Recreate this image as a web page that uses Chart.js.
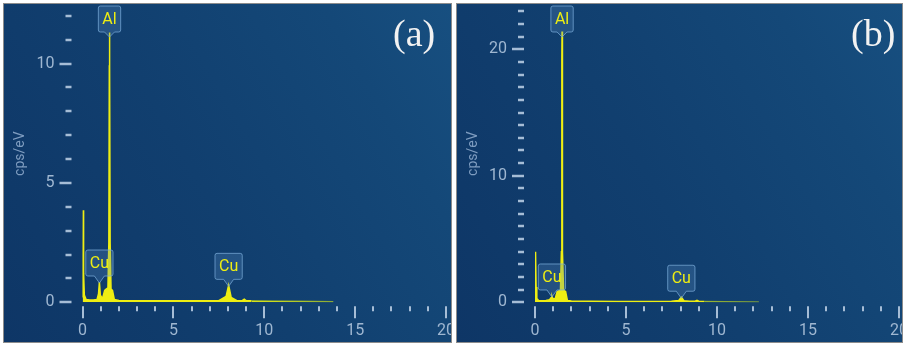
<!DOCTYPE html>
<html>
<head>
<meta charset="utf-8">
<script src="https://cdn.jsdelivr.net/npm/chart.js@4.4.1/dist/chart.umd.min.js"></script>
<style>
  body { margin: 0; background: #fff; width: 904px; height: 345px; overflow: hidden; position: relative; }
  .panel {
    position: absolute; top: 3px; height: 338px; border: 1px solid #8c8c8c; overflow: hidden;
    background: linear-gradient(60deg, #0e3666 0%, #113f6f 45%, #144878 80%, #174f80 100%);
  }
  #panelA { left: 3px; width: 447px; }
  #panelB { left: 456px; width: 445px; }
  .panel canvas { position: absolute; left: 0; top: 0; }
  .tag { position: absolute; top: 7px; font-family: "Liberation Serif", serif; font-size: 38px; color: #f2f2f2; }
</style>
</head>
<body>
<div class="panel" id="panelA">
  <canvas id="spectrumA" width="470" height="338"></canvas>
  <div class="tag" style="left:389px">(a)</div>
</div>
<div class="panel" id="panelB">
  <canvas id="spectrumB" width="470" height="338"></canvas>
  <div class="tag" style="left:394px">(b)</div>
</div>
<script>
// EDS spectra, energy in keV, intensity in cps/eV
const energyA = [0, 0.03, 0.06, 0.1, 0.2, 0.4, 0.6, 0.8, 0.88, 0.93, 0.98, 1.1, 1.22, 1.3, 1.4, 1.45, 1.475, 1.486, 1.497, 1.52,
  1.57, 1.65, 1.75, 2.0, 3.0, 4.5, 6.0, 7.5, 7.9, 8.04, 8.18, 8.5, 8.8, 8.9, 9.0, 9.3, 10.5, 12.0, 13.8];
const cpsA = [0.2, 3.85, 1.2, 0.3, 0.12, 0.1, 0.1, 0.12, 0.35, 0.85, 0.3, 0.15, 0.5, 0.55, 0.6, 2.5, 9.9, 11.3, 9.9, 2.5,
  0.55, 0.5, 0.12, 0.08, 0.07, 0.06, 0.06, 0.07, 0.25, 0.71, 0.2, 0.07, 0.08, 0.13, 0.07, 0.06, 0.05, 0.04, 0.02];

const energyB = [0, 0.03, 0.06, 0.1, 0.2, 0.4, 0.6, 0.8, 0.88, 0.93, 0.98, 1.1, 1.22, 1.3, 1.4, 1.45, 1.475, 1.486, 1.497, 1.52,
  1.57, 1.68, 1.78, 2.0, 3.0, 4.5, 6.0, 7.5, 7.9, 8.04, 8.18, 8.5, 8.8, 8.9, 9.0, 9.3, 10.5, 12.3];
const cpsB = [0.3, 4.0, 1.2, 0.3, 0.15, 0.12, 0.15, 0.2, 0.35, 0.5, 0.3, 0.25, 0.85, 0.9, 0.95, 4, 19.2, 21.4, 19.2, 4,
  0.95, 0.85, 0.15, 0.1, 0.08, 0.07, 0.07, 0.08, 0.15, 0.4, 0.12, 0.08, 0.08, 0.15, 0.08, 0.07, 0.05, 0.03];

// element markers
const peakNames = ["Al", "Cu", "Cu"];
const peakEnergies = [1.486, 0.93, 8.04];

// axis ticks (labels only on the major ones)
const xTicks = [0, 1, 2, 3, 4, 5, 6, 7, 8, 9, 10, 11, 12, 13, 14, 15, 16, 17, 18, 19, 20];
const yTicksA = [0, 1, 2, 3, 4, 5, 6, 7, 8, 9, 10, 11, 12];
const yTicksB = [0, 1, 2, 3, 4, 5, 6, 7, 8, 9, 10, 11, 12, 13, 14, 15, 16, 17, 18, 19, 20, 21, 22, 23];
const xMajorStep = 5;

const tickColor = "#a6bdd6";
const labelColor = "#9fb7d1";
const traceColor = "#eeee12";

// tick marks sit a little off the plot, majors longer than minors
const tickMarks = {
  id: "tickMarks",
  afterDraw(chart, args, opts) {
    const { ctx, chartArea: a, scales: { x, y } } = chart;
    ctx.save();
    ctx.strokeStyle = tickColor;
    ctx.lineWidth = 2;
    xTicks.forEach(v => {
      const px = Math.round(x.getPixelForValue(v));
      const major = v % xMajorStep === 0;
      ctx.beginPath();
      ctx.moveTo(px, a.bottom + 4);
      ctx.lineTo(px, a.bottom + (major ? 16 : 9));
      ctx.stroke();
    });
    ctx.lineWidth = 2.5;
    opts.yTicks.forEach(v => {
      const py = Math.round(y.getPixelForValue(v));
      const major = v % opts.yMajor === 0;
      ctx.beginPath();
      ctx.moveTo(a.left - 11, py);
      ctx.lineTo(a.left - (major ? 23 : 17), py);
      ctx.stroke();
    });
    ctx.restore();
  }
};

// boxed element tags with a pointer down to the peak
const peakTags = {
  id: "peakTags",
  afterDatasetsDraw(chart) {
    const { ctx, chartArea: a, scales: { x, y } } = chart;
    const pts = chart.data.datasets[0].data;
    ctx.save();
    ctx.font = "16px Roboto";
    peakNames.forEach((name, i) => {
      const e = peakEnergies[i];
      let top = 0;
      pts.forEach(p => { if (Math.abs(p.x - e) < 0.06 && p.y > top) top = p.y; });
      const px = x.getPixelForValue(e);
      const peakY = y.getPixelForValue(top);
      const w = ctx.measureText(name).width + 8;
      const h = 26;
      let tip = peakY + 1;
      let bottom = tip - 7;
      // tall peaks: park the tag at the top of the plot
      if (bottom - h < a.top + 1) {
        bottom = a.top + 1 + h;
        tip = bottom + 5;
      }
      const l = px - w / 2, r = px + w / 2, t = bottom - h;
      ctx.beginPath();
      ctx.moveTo(l + 2, t);
      ctx.lineTo(r - 2, t);
      ctx.quadraticCurveTo(r, t, r, t + 2);
      ctx.lineTo(r, bottom - 2);
      ctx.quadraticCurveTo(r, bottom, r - 2, bottom);
      ctx.lineTo(px + 5, bottom);
      ctx.lineTo(px, tip);
      ctx.lineTo(px - 5, bottom);
      ctx.lineTo(l + 2, bottom);
      ctx.quadraticCurveTo(l, bottom, l, bottom - 2);
      ctx.lineTo(l, t + 2);
      ctx.quadraticCurveTo(l, t, l + 2, t);
      ctx.closePath();
      ctx.fillStyle = "rgba(90,140,190,0.28)";
      ctx.fill();
      ctx.strokeStyle = "rgba(120,170,215,0.75)";
      ctx.lineWidth = 1;
      ctx.stroke();
      ctx.fillStyle = traceColor;
      ctx.textAlign = "center";
      ctx.textBaseline = "middle";
      ctx.fillText(name, px, t + h / 2 + 1);
    });
    ctx.restore();
  }
};

function makeSpectrum(id, energy, cps, yTicks, yMax, yMajor, leftWidth) {
  const ctx = document.getElementById(id).getContext("2d");
  return new Chart(ctx, {
    type: "line",
    data: {
      datasets: [{
        data: energy.map((e, i) => ({ x: e, y: cps[i] })),
        borderColor: traceColor,
        backgroundColor: traceColor,
        borderWidth: 1.5,
        pointRadius: 0,
        tension: 0,
        fill: "origin",
        // the low continuum past the Cu lines reads dimmer
        segment: { borderColor: c => (c.p0.parsed.x >= 9.3 ? "rgba(170,200,40,0.65)" : undefined) }
      }]
    },
    options: {
      responsive: false,
      animation: false,
      layout: { padding: { top: 1, right: 28, left: 0, bottom: 0 } },
      plugins: { legend: { display: false }, tooltip: { enabled: false }, tickMarks: { yTicks, yMajor } },
      scales: {
        x: {
          type: "linear",
          min: 0,
          max: 20,
          bounds: "data",
          grid: { display: false, drawTicks: false },
          border: { display: false },
          afterBuildTicks: s => { s.ticks = xTicks.map(v => ({ value: v })); },
          afterFit: s => { s.height = 39.7; s.paddingLeft = 0; s.paddingRight = 0; },
          ticks: {
            autoSkip: false,
            maxRotation: 0,
            padding: 19,
            color: labelColor,
            font: { family: "Roboto", size: 16 },
            callback: v => (v % xMajorStep === 0 ? String(v) : null)
          }
        },
        y: {
          min: 0,
          max: yMax,
          bounds: "data",
          grid: { display: false, drawTicks: false },
          border: { display: false },
          afterBuildTicks: s => { s.ticks = yTicks.map(v => ({ value: v })); },
          afterFit: s => { s.width = leftWidth; s.paddingTop = 0; s.paddingBottom = 0; },
          title: {
            display: true,
            text: "cps/eV",
            color: "#7f9dc0",
            padding: 7.6,
            font: { family: "Roboto", size: 14 }
          },
          ticks: {
            autoSkip: false,
            padding: 28,
            color: labelColor,
            font: { family: "Roboto", size: 16 },
            callback: v => (v % yMajor === 0 ? String(v) : null)
          }
        }
      }
    },
    plugins: [tickMarks, peakTags]
  });
}

makeSpectrum("spectrumA", energyA, cpsA, yTicksA, 12.45, 5, 78.5);
makeSpectrum("spectrumB", energyB, cpsB, yTicksB, 23.5, 10, 78);
</script>
</body>
</html>
